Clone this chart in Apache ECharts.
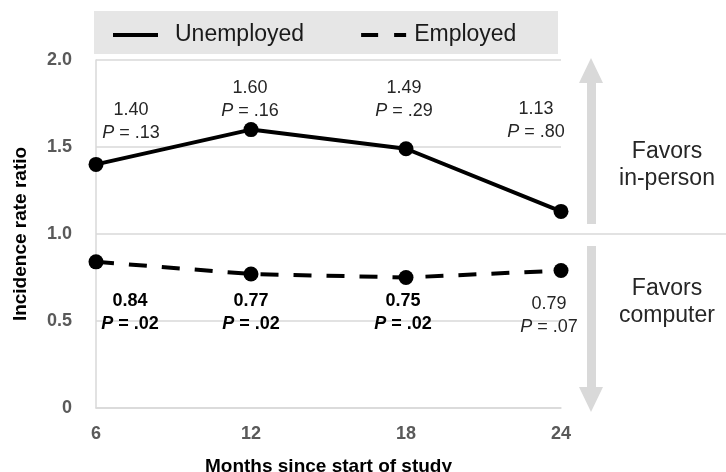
<!DOCTYPE html>
<html>
<head>
<meta charset="utf-8">
<script src="https://cdn.jsdelivr.net/npm/echarts@6/dist/echarts.min.js"></script>
<style>html,body{margin:0;padding:0;background:#fff;}#c{width:726px;height:472px;}</style>
</head>
<body>
<div id="c"></div>
<script>
var categories = ['6', '12', '18', '24'];
var yTickLabels = ['0', '0.5', '1.0', '1.5', '2.0'];
var unemployedValues = [1.40, 1.60, 1.49, 1.13];
var unemployedP = ['.13', '.16', '.29', '.80'];
var employedValues = [0.84, 0.77, 0.75, 0.79];
var employedP = ['.02', '.02', '.02', '.07'];
var employedSignificant = [true, true, true, false];

// label placement tweaks (style, not data)
var unempLabelOffsets = [[35, -7], [-1, 5], [-2, -14], [-25, -55]];
var empLabelOffsets = [[34, 15], [0, 3], [-3, 0], [-12, 9]];

var FONT = 'Liberation Sans, Arial, sans-serif';

var richStyles = {
  v: {fontSize: 18, color: '#262626', fontFamily: FONT, lineHeight: 23},
  pi: {fontSize: 18, color: '#262626', fontFamily: FONT, fontStyle: 'italic', lineHeight: 23},
  pt: {fontSize: 18, color: '#262626', fontFamily: FONT, lineHeight: 23},
  vb: {fontSize: 18, color: '#000', fontFamily: FONT, fontWeight: 'bold', lineHeight: 23},
  pib: {fontSize: 18, color: '#000', fontFamily: FONT, fontWeight: 'bold', fontStyle: 'italic', lineHeight: 23},
  ptb: {fontSize: 18, color: '#000', fontFamily: FONT, fontWeight: 'bold', lineHeight: 23}
};

function fmt(v) { return v.toFixed(2); }

var unempData = unemployedValues.map(function (v, i) {
  return {
    value: v,
    label: {
      show: true, position: 'top', align: 'center', offset: unempLabelOffsets[i],
      formatter: '{v|' + fmt(v) + '}\n{pi|P}{pt| = ' + unemployedP[i] + '}',
      rich: richStyles
    }
  };
});
var empData = employedValues.map(function (v, i) {
  var b = employedSignificant[i];
  return {
    value: v,
    label: {
      show: true, position: 'bottom', align: 'center', offset: empLabelOffsets[i],
      formatter: b ? ('{vb|' + fmt(v) + '}\n{pib|P}{ptb| = ' + employedP[i] + '}')
                   : ('{v|' + fmt(v) + '}\n{pi|P}{pt| = ' + employedP[i] + '}'),
      rich: richStyles
    }
  };
});

var chart = echarts.init(document.getElementById('c'), null, {renderer: 'canvas'});
var option = {
  animation: false,
  backgroundColor: '#fff',
  textStyle: {fontFamily: FONT},
  grid: {left: 96, right: 165, top: 60, bottom: 64, containLabel: false, outerBoundsMode: 'none'},
  legend: {
    left: 113, top: 22, padding: 0, itemGap: 57, itemWidth: 45, itemHeight: 4,
    textStyle: {fontSize: 23, color: '#1a1a1a', fontFamily: FONT, lineHeight: 26},
    data: [
      {name: 'Unemployed', icon: 'path://M0,0H45V4H0Z', textStyle: {padding: [0, 0, 0, 12]}},
      {name: 'Employed', icon: 'path://M0,0H17V4H0Z M33,0H45V4H33Z', textStyle: {padding: [0, 0, 0, 3]}}
    ]
  },
  xAxis: {
    type: 'category', data: categories, boundaryGap: false,
    name: 'Months since start of study', nameLocation: 'middle', nameGap: 49,
    nameTextStyle: {fontSize: 19, fontWeight: 'bold', color: '#000', fontFamily: FONT},
    axisLine: {show: true, lineStyle: {color: '#d9d9d9', width: 1.5}},
    axisTick: {show: false},
    axisLabel: {fontSize: 18, fontWeight: 'bold', color: '#595959', margin: 17, fontFamily: FONT},
    splitLine: {show: false}
  },
  yAxis: {
    type: 'value', min: 0, max: 2, interval: 0.5,
    name: 'Incidence rate ratio', nameLocation: 'middle', nameGap: 66, nameRotate: 90,
    nameTextStyle: {fontSize: 19, fontWeight: 'bold', color: '#000', fontFamily: FONT},
    axisLine: {show: true, lineStyle: {color: '#d9d9d9', width: 1.5}},
    axisTick: {show: false},
    axisLabel: {
      fontSize: 18, fontWeight: 'bold', color: '#595959', margin: 24, fontFamily: FONT,
      formatter: function (val) { return yTickLabels[Math.round(val / 0.5)]; }
    },
    splitLine: {show: true, lineStyle: {color: '#d9d9d9', width: 1.5}}
  },
  graphic: [
    {type: 'rect', z: -10, shape: {x: 94, y: 11, width: 464, height: 43}, style: {fill: '#e6e6e6'}},
    {type: 'polygon', z: -5, shape: {points: [[591, 58], [603, 83], [596, 83], [596, 224], [587, 224], [587, 83], [579, 83]]}, style: {fill: '#d9d9d9'}},
    {type: 'polygon', z: -5, shape: {points: [[587, 246], [596, 246], [596, 387], [603, 387], [591, 412], [579, 387], [587, 387]]}, style: {fill: '#d9d9d9'}},
    {type: 'text', x: 667, y: 165, style: {text: 'Favors\nin-person', font: '23px ' + FONT, fill: '#262626', align: 'center', verticalAlign: 'middle', lineHeight: 27}},
    {type: 'text', x: 667, y: 302, style: {text: 'Favors\ncomputer', font: '23px ' + FONT, fill: '#262626', align: 'center', verticalAlign: 'middle', lineHeight: 27}}
  ],
  series: [
    {
      name: 'Unemployed', type: 'line', data: unempData,
      symbol: 'circle', symbolSize: 15, color: '#000',
      itemStyle: {color: '#000'},
      lineStyle: {color: '#000', width: 4}, z: 5
    },
    {
      name: 'Employed', type: 'line', data: empData,
      symbol: 'circle', symbolSize: 15, color: '#000',
      itemStyle: {color: '#000'},
      lineStyle: {color: '#000', width: 4, type: [18, 15]}, z: 5
    }
  ]
};
chart.setOption(option);

// extend the 1.0 reference line to the right edge
var yOne = chart.convertToPixel({yAxisIndex: 0}, 1.0);
var xEnd = chart.convertToPixel({xAxisIndex: 0}, categories[categories.length - 1]);
chart.setOption({
  graphic: option.graphic.concat([
    {type: 'line', z: -6, shape: {x1: xEnd, y1: yOne, x2: 726, y2: yOne}, style: {stroke: '#d9d9d9', lineWidth: 1.5}}
  ])
});
</script>
</body>
</html>
